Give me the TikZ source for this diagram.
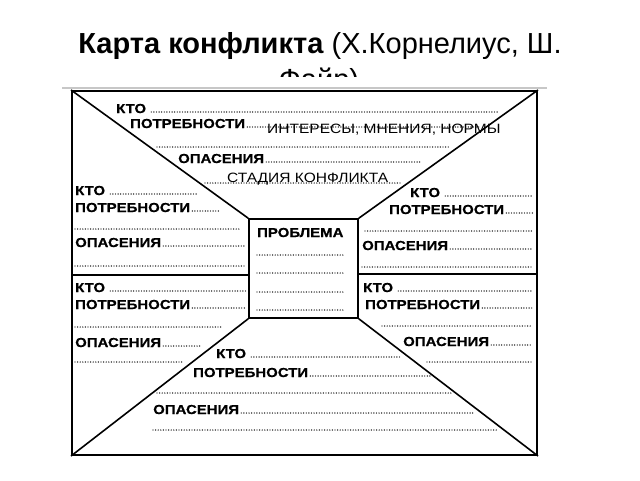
\documentclass[tikz,border=0pt]{standalone}
\usepackage{fontspec}
\setmainfont{Liberation Sans}
\newfontfamily\tfont{Liberation Sans}
\newfontfamily\dfont[FakeStretch=1.15, BoldFeatures={FakeBold=0.6}]{Liberation Sans}
\newcommand\kline[5]{\node[lbl] (#1) at (#2,#3) {#4}; \draw[dotrow] ([xshift=2pt,yshift=1pt]#1.base east) -- ({#5},{#3-1});}
\newcommand\qline[5]{\node[lbl] (#1) at (#2,#3) {#4}; \draw[dotrow] ([xshift=5pt,yshift=1pt]#1.base east) -- ({#5},{#3-1});}
\begin{document}
\begin{tikzpicture}[x=1pt,y=-1pt,
  lbl/.style={anchor=base west, inner sep=0pt, font=\dfont\bfseries\fontsize{13}{13}\selectfont},
  reg/.style={anchor=base west, inner sep=0pt, font=\dfont\fontsize{13.5}{13.5}\selectfont},
  dotrow/.style={line width=1.4pt, line cap=round, dash pattern=on 0pt off 2.6pt},
  frame/.style={draw, line width=2pt, inner sep=0pt},
  edge/.style={line width=1.6pt},
  ttl/.style={anchor=base, inner sep=0pt, font=\tfont\fontsize{29}{29}\selectfont}]
\useasboundingbox (0,0) rectangle (640,480);
\fill[white] (0,0) rectangle (640,480);
% title
\node[ttl] (title) at (320,53) {\textbf{Карта конфликта} (Х.Корнелиус, Ш.};
\node[ttl] (title2) at (319,89) {Файр)};
\fill[white] (40,77) rectangle (600,96);
\draw[black!22, line width=2pt] (62,88) -- (547,88);
% frame and box
\node[frame, minimum width=465pt, minimum height=364pt] (fr) at (304.5,273) {};
\node[frame, line width=1.6pt, minimum width=109pt, minimum height=99pt] (box) at (303.5,268.5) {};
\draw[edge] (fr.north west) -- (box.north west);
\draw[edge] (fr.north east) -- (box.north east);
\draw[edge] (fr.south west) -- (box.south west);
\draw[edge] (fr.south east) -- (box.south east);
\coordinate (hl) at (72,275);
\coordinate (hr) at (537,274);
\draw[edge] (hl) -- (hl -| box.west);
\draw[edge] (hr) -- (hr -| box.east);
% top
\qline{t1}{116}{113}{КТО}{498}
\kline{t2}{130}{128}{ПОТРЕБНОСТИ}{480}
\node[reg] (t2b) at (267,133) {ИНТЕРЕСЫ, МНЕНИЯ, НОРМЫ};
\draw[dotrow] (157,147) -- (450,147);
\kline{t3}{178}{163}{ОПАСЕНИЯ}{420}
\draw[dotrow] (205,183) -- (402,183);
\node[reg] (t4) at (227,182) {СТАДИЯ КОНФЛИКТА};
% left
\qline{l1}{75}{195}{КТО}{198}
\kline{l2}{75}{212}{ПОТРЕБНОСТИ}{219}
\draw[dotrow] (75,229) -- (240,229);
\kline{l3}{75}{247}{ОПАСЕНИЯ}{246}
\draw[dotrow] (75,266) -- (246,266);
\qline{l4}{75}{292}{КТО}{246}
\kline{l5}{75}{309}{ПОТРЕБНОСТИ}{245}
\draw[dotrow] (75,327) -- (222,327);
\kline{l6}{75}{347}{ОПАСЕНИЯ}{202}
\draw[dotrow] (75,362) -- (182,362);
% right
\qline{r1}{410}{197}{КТО}{533}
\kline{r2}{389}{214}{ПОТРЕБНОСТИ}{533}
\draw[dotrow] (365,231) -- (533,231);
\kline{r3}{362}{250}{ОПАСЕНИЯ}{533}
\draw[dotrow] (362,267) -- (533,267);
\qline{r4}{363}{292}{КТО}{533}
\kline{r5}{365}{309}{ПОТРЕБНОСТИ}{533}
\draw[dotrow] (382,326) -- (532,326);
\kline{r6}{403}{346}{ОПАСЕНИЯ}{532}
\draw[dotrow] (427,362) -- (532,362);
% bottom
\qline{b1}{216}{358}{КТО}{402}
\kline{b2}{193}{377}{ПОТРЕБНОСТИ}{430}
\draw[dotrow] (157,393) -- (452,393);
\kline{b3}{153}{414}{ОПАСЕНИЯ}{473}
\draw[dotrow] (153,430) -- (497,430);
% problem box
\node[lbl] (p1) at (257,237) {ПРОБЛЕМА};
\draw[dotrow] (257,255) -- (345,255);
\draw[dotrow] (257,273) -- (345,273);
\draw[dotrow] (257,292) -- (345,292);
\draw[dotrow] (257,310) -- (345,310);
\end{tikzpicture}
\end{document}
